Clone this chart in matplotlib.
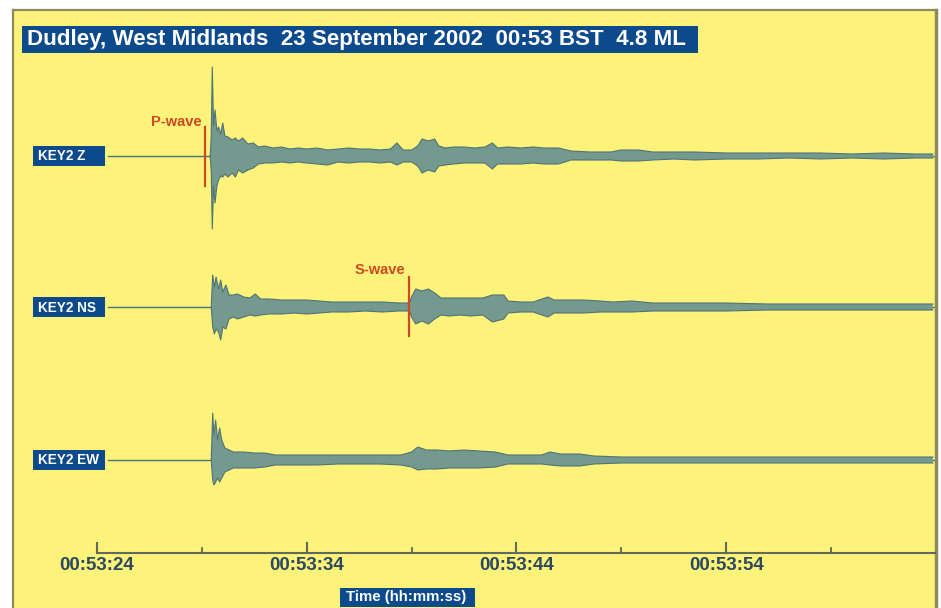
import matplotlib
matplotlib.use("Agg")
import matplotlib.pyplot as plt
from matplotlib.patches import Rectangle
import numpy as np

# ---------------- data ----------------
title = "Dudley, West Midlands  23 September 2002  00:53 BST  4.8 ML"
channels = ["KEY2 Z", "KEY2 NS", "KEY2 EW"]
tick_secs = [24, 34, 44, 54]                       # seconds after 00:53:00
tick_labels = ["00:53:24", "00:53:34", "00:53:44", "00:53:54"]
minor_secs = [29, 39, 49, 59]
axis_label = "Time (hh:mm:ss)"
p_wave_time = 29.15
s_wave_time = 38.88

# envelope of each trace: time (s after 00:53:00), upward and downward amplitude
z_t = [29.40, 29.45, 29.50, 29.56, 29.63, 29.72, 29.80, 29.90, 30.00, 30.10, 30.25, 30.45,
       30.60, 30.75, 30.95, 31.20, 31.45, 31.70, 32.00, 32.40, 32.80, 33.20, 33.60, 34.00,
       34.50, 35.00, 35.50, 36.00, 36.50, 37.00, 37.50, 38.00, 38.30, 38.60, 39.00, 39.30,
       39.50, 39.80, 40.10, 40.30, 40.60, 41.00, 41.50, 42.00, 42.50, 42.85, 43.10, 43.60,
       44.20, 44.80, 45.30, 46.00, 46.60, 47.50, 48.50, 49.00, 49.80, 50.50, 51.50, 52.50,
       54.00, 55.50, 57.00, 58.50, 60.00, 61.50, 63.00, 63.85]
z_up = [0, 20, 89, 30, 46, 25, 29, 22, 33, 20, 19, 16,
        18, 15, 18, 12, 13, 9, 10, 8, 9, 7, 8, 7,
        8, 6, 7, 8, 7, 7, 6, 7, 13, 6, 6, 10,
        17, 15, 17, 10, 8, 9, 9, 8, 9, 13, 8, 9,
        8, 9, 8, 8, 5, 4, 4, 6, 6, 4, 4, 4,
        3, 3, 3, 3, 2, 3, 2, 2]
z_dn = [0, 15, 73, 30, 47, 30, 24, 20, 21, 18, 21, 17,
        21, 14, 17, 14, 12, 8, 7, 7, 6, 7, 6, 7,
        8, 9, 6, 7, 6, 6, 7, 6, 9, 6, 6, 10,
        17, 14, 16, 10, 9, 8, 7, 7, 7, 13, 8, 8,
        8, 7, 8, 8, 4, 4, 4, 5, 5, 4, 3, 4,
        3, 3, 2, 3, 2, 3, 2, 2]

ns_t = [29.45, 29.52, 29.60, 29.68, 29.80, 29.90, 30.00, 30.15, 30.30, 30.50, 30.70, 31.00,
        31.30, 31.55, 31.80, 32.20, 32.80, 33.40, 34.00, 34.60, 35.20, 36.00, 36.80, 37.60,
        38.40, 38.90, 39.00, 39.20, 39.50, 39.80, 40.10, 40.40, 40.80, 41.30, 41.80, 42.40,
        42.85, 43.40, 43.60, 44.20, 44.80, 45.50, 45.80, 46.50, 47.20, 48.00, 48.60, 49.50,
        50.50, 52.00, 54.00, 56.00, 58.00, 60.00, 62.00, 63.85]
ns_up = [0, 32, 20, 30, 18, 27, 15, 22, 12, 12, 13, 10,
         9, 13, 8, 8, 7, 7, 7, 6, 5, 5, 5, 5,
         4, 4, 10, 18, 16, 18, 14, 9, 9, 9, 9, 9,
         12, 12, 6, 5, 5, 10, 7, 7, 7, 6, 5, 6,
         4, 4, 4, 3, 3, 3, 3, 3]
ns_dn = [0, 20, 27, 22, 25, 33, 20, 22, 12, 10, 12, 10,
         8, 9, 8, 7, 7, 6, 7, 6, 5, 5, 4, 5,
         4, 4, 10, 17, 14, 17, 12, 8, 9, 8, 9, 8,
         15, 12, 6, 5, 5, 10, 6, 6, 6, 5, 5, 5,
         4, 4, 4, 3, 3, 3, 3, 3]

ew_t = [29.45, 29.52, 29.58, 29.66, 29.75, 29.85, 29.95, 30.10, 30.30, 30.50, 31.00, 31.50,
        32.00, 32.50, 33.50, 34.50, 35.50, 36.50, 37.50, 38.50, 39.00, 39.30, 39.70, 40.20,
        40.80, 41.50, 42.20, 43.00, 43.60, 44.50, 45.20, 45.60, 46.10, 47.00, 47.70, 49.00,
        51.00, 53.00, 55.00, 57.00, 59.00, 61.00, 63.85]
ew_up = [0, 47, 25, 40, 20, 32, 20, 12, 10, 8, 8, 7,
         7, 5, 5, 5, 5, 5, 5, 5, 8, 13, 10, 10,
         9, 10, 9, 8, 5, 5, 5, 8, 6, 6, 4, 3,
         3, 3, 3, 3, 3, 3, 3]
ew_dn = [0, 20, 25, 22, 18, 22, 18, 12, 10, 8, 8, 8,
         7, 5, 5, 5, 4, 4, 4, 5, 7, 10, 9, 9,
         8, 8, 8, 7, 4, 4, 4, 5, 6, 6, 4, 3,
         3, 3, 3, 3, 3, 3, 3]

traces = [(z_t, z_up, z_dn), (ns_t, ns_up, ns_dn), (ew_t, ew_up, ew_dn)]

# ---------------- style ----------------
W, H = 941, 608
YELLOW = "#fdf27a"
BORDER = "#8d8b5e"
BLUE = "#0c4a8c"
TRACE_FILL = "#74998f"
TRACE = "#4f7477"
RED = "#cc4a22"
TICKTXT = "#2b4a62"
AXIS = "#5f6a5a"
FONT = "Liberation Sans"

fig = plt.figure(figsize=(W / 100, H / 100), dpi=100, facecolor="white")

def fx(x):
    return x / W

def fy(y):
    return 1 - y / H

# panel axes: x in seconds after 00:53:00, y in pixels above image bottom
ax = fig.add_axes([fx(13), 0, fx(936) - fx(13), 1 - 10 / H])
ax.set_facecolor(YELLOW)
ax.set_xlim(20.0, 64.0)
ax.set_ylim(0, H - 10)
ax.set_xticks([])
ax.set_yticks([])
for s in ["left", "top", "right"]:
    ax.spines[s].set_color(BORDER)
    ax.spines[s].set_linewidth(1.6)
ax.spines["right"].set_linewidth(2.5)
ax.spines["bottom"].set_visible(False)

baselines = [H - 156, H - 307, H - 460]
start_t = 24.52
end_t = 63.9

for (t, up, dn), base in zip(traces, baselines):
    t = np.asarray(t)
    up = np.asarray(up)
    dn = np.asarray(dn)
    ax.plot([start_t, end_t], [base, base], color=TRACE, lw=1.0, zorder=2)
    ax.fill_between(t, base + up, base - dn, facecolor=TRACE_FILL, lw=0.0, zorder=3)
    ax.plot(t, base + up, color=TRACE, lw=0.8, zorder=4)
    ax.plot(t, base - dn, color=TRACE, lw=0.8, zorder=4)

# P and S markers
ax.plot([p_wave_time, p_wave_time], [H - 127, H - 186], color=RED, lw=1.6, zorder=5)
ax.plot([s_wave_time, s_wave_time], [H - 277, H - 336], color=RED, lw=1.6, zorder=5)
fig.text(fx(176), fy(121.5), "P-wave", color=RED, fontsize=10.5, fontweight="bold",
         family=FONT, ha="center", va="center")
fig.text(fx(380), fy(270.5), "S-wave", color=RED, fontsize=10.5, fontweight="bold",
         family=FONT, ha="center", va="center")

# time axis
ax.plot([tick_secs[0], 64.0], [H - 553, H - 553], color=AXIS, lw=1.5, zorder=4,
        clip_on=False, solid_capstyle="butt")
for ts in tick_secs:
    ax.plot([ts, ts], [H - 553, H - 543], color=AXIS, lw=1.5, zorder=4)
for ts in minor_secs:
    ax.plot([ts, ts], [H - 553, H - 548], color=AXIS, lw=1.3, zorder=4)
for ts, lab in zip(tick_secs, tick_labels):
    ax.text(ts, H - 566, lab, color=TICKTXT, fontsize=13.5, fontweight="bold",
            family=FONT, ha="center", va="center")

# title box
fig.patches.append(Rectangle((fx(22), fy(53)), fx(698) - fx(22), (53 - 26) / H,
                             transform=fig.transFigure, facecolor=BLUE,
                             edgecolor="none", zorder=5))
fig.text(fx(27), fy(40), title, color="white", fontsize=16.1, fontweight="bold",
         family=FONT, ha="left", va="center", zorder=6)

# channel label boxes
for name, base in zip(channels, [156, 307, 460]):
    fig.patches.append(Rectangle((fx(33), fy(base + 10)), fx(105) - fx(33), 20 / H,
                                 transform=fig.transFigure, facecolor=BLUE,
                                 edgecolor="none", zorder=5))
    fig.text(fx(38), fy(base + 0.5), name, color="white", fontsize=9.8,
             fontweight="bold", family=FONT, ha="left", va="center", zorder=6)

# time label box
fig.patches.append(Rectangle((fx(340), fy(607)), fx(475) - fx(340), 19 / H,
                             transform=fig.transFigure, facecolor=BLUE,
                             edgecolor="none", zorder=5))
fig.text(fx(406), fy(597.5), axis_label, color="white", fontsize=10.8,
         fontweight="bold", family=FONT, ha="center", va="center", zorder=6)

fig.savefig("out.png", dpi=100, facecolor="white")
